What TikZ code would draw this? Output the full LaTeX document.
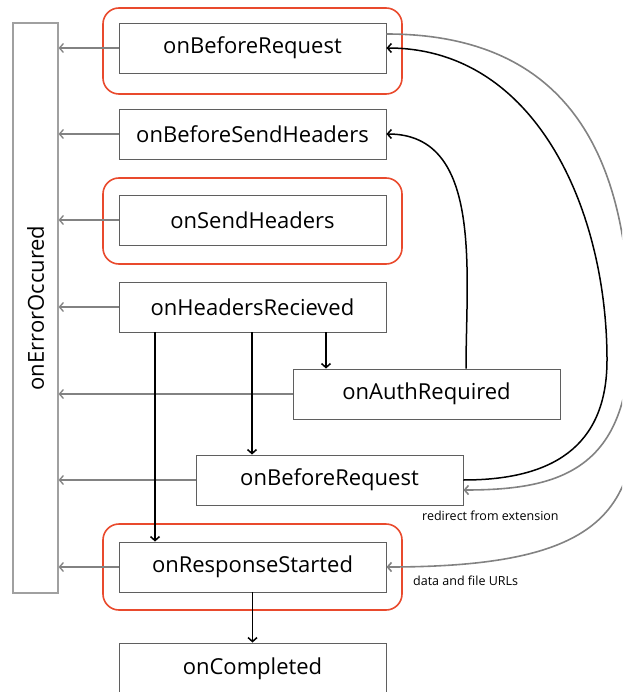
\documentclass[tikz,border=0pt]{standalone}
\usepackage{fontspec}
\setmainfont{Open Sans}
\usetikzlibrary{arrows.meta,calc}
\definecolor{hilite}{RGB}{233,74,45}
\definecolor{boxline}{RGB}{95,95,95}
\definecolor{errline}{RGB}{160,160,160}
\definecolor{flowgray}{RGB}{130,130,130}
\tikzset{
  event/.style={draw=boxline, line width=0.9pt, minimum width=267pt, minimum height=50pt,
    inner sep=0pt, font=\fontsize{22}{26}\selectfont},
  errbox/.style={draw=errline, line width=1.2pt, minimum width=45pt, minimum height=570pt, inner sep=0pt},
  ring/.style={draw=hilite, line width=1.6pt, rounded corners=16pt},
  toerr/.style={draw=flowgray, line width=1.3pt, -{Straight Barb[length=4pt,width=9pt]}},
  flow/.style={draw=black, line width=1.5pt, -{Straight Barb[length=4pt,width=9pt]}},
  alt/.style={draw=flowgray, line width=1.6pt, -{Straight Barb[length=4pt,width=9pt]}},
  note/.style={font=\fontsize{12.5}{15}\selectfont, anchor=west, inner sep=0pt}
}
\begin{document}
\begin{tikzpicture}[x=1pt,y=-1pt]
\useasboundingbox (0,0) rectangle (622,692);
\clip (0,0) rectangle (622,692);

% highlighted groups
\draw[ring] (103,8) rectangle (402,94);
\draw[ring] (103,178) rectangle (402,264);
\draw[ring] (103,524) rectangle (402,610);

% events
\node[errbox] (err) at (35.5,308) {\rotatebox{90}{\fontsize{22}{26}\selectfont onErrorOccured}};
\node[event] (obr)  at (252.5,48)  {onBeforeRequest};
\node[event] (obsh) at (252.5,134) {onBeforeSendHeaders};
\node[event] (osh)  at (252.5,220) {onSendHeaders};
\node[event] (ohr)  at (252.5,307) {onHeadersRecieved};
\node[event] (oar)  at (426.5,394) {onAuthRequired};
\node[event] (obr2) at (329.5,480) {onBeforeRequest};
\node[event] (ors)  at (252.5,567) {onResponseStarted};
\node[event, minimum height=52pt] (oc) at (252.5,669) {onCompleted};

% error paths
\foreach \n in {obr,obsh,osh,ohr,oar,obr2,ors}
  \draw[toerr] (\n.west) -- (err.east |- \n.west);

% normal flow
\draw[flow] (ohr.south -| 155,0) -- (ors.north -| 155,0);
\draw[flow] (ohr.south -| 252,0) -- (obr2.north -| 252,0);
\draw[flow] (ohr.south -| 326,0) -- (oar.north -| 326,0);
\draw[flow] (ors.south) -- (oc.north);

% auth retry and redirect loops
\draw[flow] (oar.north -| 466,0) to[out=90,in=0] (obsh.east);
\coordinate (turn) at (607,360);
\draw[draw=black, line width=1.5pt] (obr2.east) to[out=0,in=-90,looseness=1.2] (turn);
\draw[flow] (turn) to[out=90,in=0] (obr.east);

% redirects and data/file URLs
\coordinate (gstart) at ($(obr.east)+(0,-14)$);
\coordinate (gpeak) at (630,335);
\draw[draw=flowgray, line width=1.6pt] (gstart) .. controls (585,34) and (630,180) .. (gpeak);
\draw[alt] (gpeak) .. controls (630,470) and (560,490) .. ([yshift=-10pt]obr2.east);
\draw[alt] (gpeak) .. controls (650,500) and (625,567) .. (ors.east);

\node[note] (lr) at (422,516) {redirect from extension};
\node[note] (ld) at (413,581) {data and file URLs};
\end{tikzpicture}
\end{document}
